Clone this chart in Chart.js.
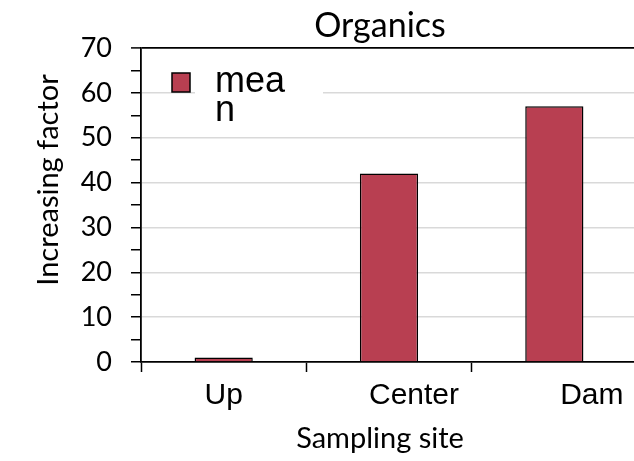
<!DOCTYPE html>
<html>
<head>
<meta charset="utf-8">
<script src="https://cdn.jsdelivr.net/npm/chart.js@4/dist/chart.umd.min.js"></script>
<style>
html,body{margin:0;padding:0;background:#fff;overflow:hidden;}
#wrap{width:634px;height:461px;position:relative;overflow:hidden;}
</style>
</head>
<body>
<div id="wrap"><canvas id="c" width="637" height="461"></canvas></div>
<script>
const categories = ['Up', 'Center', 'Dam'];
const meanValues = [1, 42, 57];
const seriesLabel = 'mean';
const yTickValues = [0, 10, 20, 30, 40, 50, 60, 70];
const chartTitle = 'Organics';
const xTitle = 'Sampling site';
const yTitle = 'Increasing factor';

const labelPad = [0, 6, 9];
const BAR = '#B83F51';

const overlay = {
  id: 'overlay',
  afterDraw(chart) {
    const ctx = chart.ctx;
    ctx.save();
    ctx.fillStyle = '#000';
    ctx.textAlign = 'center';
    ctx.textBaseline = 'alphabetic';
    ctx.font = '34px Lato';
    ctx.fillText(chartTitle, 380, 37);
    ctx.font = '29px Lato';
    ctx.fillText(xTitle, 380, 448);
    ctx.save();
    ctx.translate(58, 180);
    ctx.rotate(-Math.PI / 2);
    ctx.fillText(yTitle, 0, 0);
    ctx.restore();
    // legend
    ctx.fillStyle = '#fff';
    ctx.fillRect(195, 62, 128, 62);
    ctx.fillStyle = BAR;
    ctx.fillRect(172, 73, 18, 19);
    ctx.strokeStyle = '#000';
    ctx.lineWidth = 1.5;
    ctx.strokeRect(172, 73, 18, 19);
    ctx.fillStyle = '#000';
    ctx.textAlign = 'left';
    ctx.font = '36px "Liberation Sans", Arial';
    const lines = [seriesLabel.slice(0, 3), seriesLabel.slice(3)];
    ctx.fillText(lines[0], 215, 92);
    ctx.fillText(lines[1], 215, 121);
    ctx.restore();
  }
};

new Chart(document.getElementById('c'), {
  type: 'bar',
  data: {
    labels: categories,
    datasets: [{
      label: seriesLabel,
      data: meanValues,
      backgroundColor: BAR,
      borderColor: '#000',
      borderWidth: 1.5,
      barPercentage: 0.352,
      categoryPercentage: 1
    }]
  },
  options: {
    responsive: false,
    animation: false,
    layout: { padding: { top: 48, right: 0, left: 0, bottom: 0 } },
    plugins: { legend: { display: false }, title: { display: false }, tooltip: { enabled: false } },
    scales: {
      x: {
        grid: { offset: true, drawOnChartArea: false, tickLength: 10, tickColor: '#000', tickWidth: 1.5 },
        border: { color: '#000', width: 1.8 },
        ticks: {
          color: '#000',
          font: { family: '"Liberation Sans", Arial', size: 30 },
          padding: 6,
          maxRotation: 0,
          autoSkip: false,
          callback: (v, i) => ' '.repeat(labelPad[i]) + categories[i]
        },
        afterFit: s => { s.height = 99; }
      },
      y: {
        min: 0, max: 70,
        ticks: {
          stepSize: 5,
          maxTicksLimit: 100,
          autoSkip: false,
          color: '#000',
          padding: 19,
          font: { family: 'Lato', size: 27 },
          callback: v => yTickValues.includes(v) ? String(v) : ''
        },
        grid: {
          color: c => {
            const v = c.tick ? c.tick.value : 0;
            if (v === 70) return '#000';
            if (v % 10 !== 0 || v === 0) return 'rgba(0,0,0,0)';
            return '#d9d9d9';
          },
          lineWidth: c => (c.tick && c.tick.value === 70) ? 1.8 : 1.5,
          tickColor: '#000',
          tickLength: 10,
          tickWidth: 1.5
        },
        border: { color: '#000', width: 1.8 },
        afterFit: s => { s.width = 141; }
      }
    }
  },
  plugins: [overlay]
});
</script>
</body>
</html>
